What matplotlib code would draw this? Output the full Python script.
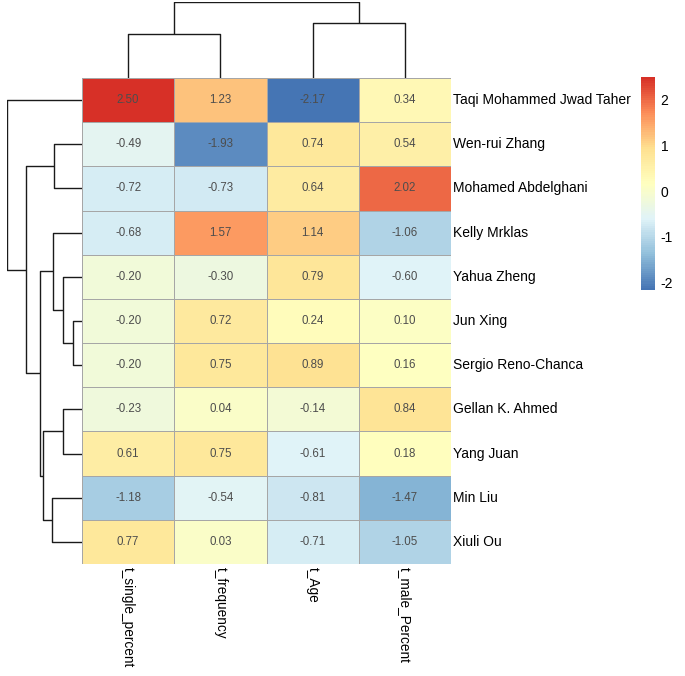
import numpy as np
import matplotlib
matplotlib.use("Agg")
import matplotlib.pyplot as plt
from matplotlib.colors import LinearSegmentedColormap, Normalize
from matplotlib.cm import ScalarMappable

plt.rcParams["font.family"] = ["Liberation Sans", "DejaVu Sans"]

# ── data ──────────────────────────────────────────────────────────────────────
row_names = [
    "Taqi Mohammed Jwad Taher", "Wen-rui Zhang", "Mohamed Abdelghani",
    "Kelly Mrklas", "Yahua Zheng", "Jun Xing", "Sergio Reno-Chanca",
    "Gellan K. Ahmed", "Yang Juan", "Min Liu", "Xiuli Ou",
]
col_names = ["t_single_percent", "t_frequency", "t_Age", "t_male_Percent"]

t_single_percent = [2.50, -0.49, -0.72, -0.68, -0.20, -0.20, -0.20, -0.23, 0.61, -1.18, 0.77]
t_frequency      = [1.23, -1.93, -0.73, 1.57, -0.30, 0.72, 0.75, 0.04, 0.75, -0.54, 0.03]
t_age            = [-2.17, 0.74, 0.64, 1.14, 0.79, 0.24, 0.89, -0.14, -0.61, -0.81, -0.71]
t_male_percent   = [0.34, 0.54, 2.02, -1.06, -0.60, 0.10, 0.16, 0.84, 0.18, -1.47, -1.05]

# merges as (left, right, height); ids >= n are earlier merges
row_merges = [
    (5, 6, 9.3), (4, 11, 19.0), (7, 8, 19.0), (1, 2, 27.3), (3, 12, 29.0),
    (9, 10, 30.0), (13, 16, 39.0), (15, 17, 41.7), (14, 18, 55.0), (0, 19, 74.3),
]
col_merges = [(0, 1, 43.0), (2, 3, 54.0), (4, 5, 75.0)]

colorbar_ticks = [-2, -1, 0, 1, 2]

# ── style ─────────────────────────────────────────────────────────────────────
PALETTE = ["#4575B4", "#91BFDB", "#E0F3F8", "#FFFFBF", "#FEE090", "#FC8D59", "#D73027"]
BORDER = "#a6a6a6"
NUM_COL = "#4d4d4d"
W, H = 685, 676

mat = np.array([t_single_percent, t_frequency, t_age, t_male_percent]).T
cmap = LinearSegmentedColormap.from_list("rdylbu", PALETTE, N=100)
norm = Normalize(vmin=mat.min(), vmax=mat.max())

fig = plt.figure(figsize=(W / 100, H / 100), dpi=100, facecolor="white")


def px_axes(x0, y0, x1, y1):
    return fig.add_axes([x0 / W, 1 - y1 / H, (x1 - x0) / W, (y1 - y0) / H])


def draw_dendro(ax, merges, n, orient):
    pos = {i: i + 0.5 for i in range(n)}
    hgt = {i: 0.0 for i in range(n)}
    for k, (a, b, h) in enumerate(merges):
        xa, xb = pos[a], pos[b]
        ha, hb = hgt[a], hgt[b]
        p = [xa, xa, xb, xb]
        q = [ha, h, h, hb]
        if orient == "top":
            ax.plot(p, q, color="#1a1a1a", lw=1.0, solid_capstyle="butt")
        else:
            ax.plot(q, p, color="#1a1a1a", lw=1.0, solid_capstyle="butt")
        pos[n + k] = (xa + xb) / 2
        hgt[n + k] = h
    ax.axis("off")


nr, nc = mat.shape

# ── heatmap ───────────────────────────────────────────────────────────────────
x0, y0, x1, y1 = 82, 78, 451, 564
ax = px_axes(x0, y0, x1, y1)
ax.pcolormesh(mat, cmap=cmap, norm=norm, edgecolors=BORDER, linewidth=0.6)
ax.set_xlim(0, nc)
ax.set_ylim(nr, 0)
for i in range(nr):
    for j in range(nc):
        ax.text(j + 0.5, i + 0.5, f"{mat[i, j]:.2f}", ha="center", va="center",
                fontsize=8.3, color=NUM_COL)
ax.set_xticks([])
ax.set_yticks([])
for s in ax.spines.values():
    s.set_visible(False)

for i, name in enumerate(row_names):
    ax.text(nc + 0.02, i + 0.5, name, ha="left", va="center", fontsize=10,
            color="black", clip_on=False)
for j, name in enumerate(col_names):
    ax.text(j + 0.5, nr + 0.07, name, ha="center", va="top", rotation=-90,
            fontsize=9.8, color="black", clip_on=False)

# ── dendrograms ───────────────────────────────────────────────────────────────
axr = px_axes(7, y0, x0, y1)
draw_dendro(axr, row_merges, nr, "left")
axr.set_ylim(nr, 0)
axr.set_xlim(max(m[2] for m in row_merges), 0)

axc = px_axes(x0, 2, x1, y0)
draw_dendro(axc, col_merges, nc, "top")
axc.set_xlim(0, nc)
axc.set_ylim(0, max(m[2] for m in col_merges))

# ── colorbar ──────────────────────────────────────────────────────────────────
cax = px_axes(641, 77, 655, 290)
sm = ScalarMappable(norm=norm, cmap=cmap)
cb = fig.colorbar(sm, cax=cax, ticks=colorbar_ticks)
cb.outline.set_visible(False)
cax.tick_params(length=0, labelsize=10, pad=4)
cax.set_yticklabels([str(t) for t in colorbar_ticks])

fig.savefig("out.png", dpi=100, facecolor="white")
